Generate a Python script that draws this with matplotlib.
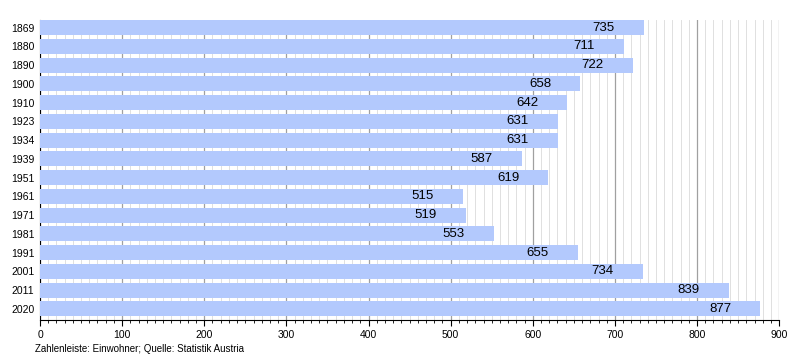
import matplotlib
matplotlib.use("Agg")
import matplotlib.pyplot as plt
from matplotlib.ticker import MultipleLocator

plt.rcParams['font.family'] = ['Liberation Sans', 'DejaVu Sans']

years = ["1869", "1880", "1890", "1900", "1910", "1923", "1934", "1939", "1951",
         "1961", "1971", "1981", "1991", "2001", "2011", "2020"]
population = [735, 711, 722, 658, 642, 631, 631, 587, 619, 515, 519, 553, 655, 734, 839, 877]
footnote = "Zahlenleiste: Einwohner; Quelle: Statistik Austria"

fig = plt.figure(figsize=(8, 3.6), dpi=100)
ax = fig.add_axes([0.05, 0.111, 0.924, 0.833])

pos = list(range(len(years)))
ax.barh(pos, population, height=0.8, color="#b3c9fd", zorder=3)

for p, v in zip(pos, population):
    ax.annotate(str(v), xy=(v, p), xytext=(-21, 0), textcoords="offset points",
                ha="right", va="center", fontsize=9.5, color="black", zorder=4)

ax.set_xlim(0, 900)
ax.set_ylim(15.6, -0.4)
ax.set_yticks(pos)
ax.set_yticklabels(years, fontsize=7.5)
ax.xaxis.set_major_locator(MultipleLocator(100))
ax.xaxis.set_minor_locator(MultipleLocator(10))
ax.tick_params(axis="x", which="major", labelsize=7.5, length=4, direction="out", color="black")
ax.tick_params(axis="x", which="minor", length=2, direction="out", color="black")
ax.tick_params(axis="y", length=0, pad=4)
ax.grid(axis="x", which="major", color="#a0a0a0", linewidth=0.9, zorder=1)
ax.grid(axis="x", which="minor", color="#e0e0e0", linewidth=0.7, zorder=0)
for s in ["top", "right"]:
    ax.spines[s].set_visible(False)
ax.spines["left"].set_color("black")
ax.spines["bottom"].set_color("black")

fig.text(35 / 800, 1 - 349 / 360, footnote, fontsize=7, ha="left", va="center")

fig.savefig("out.png", dpi=100)
